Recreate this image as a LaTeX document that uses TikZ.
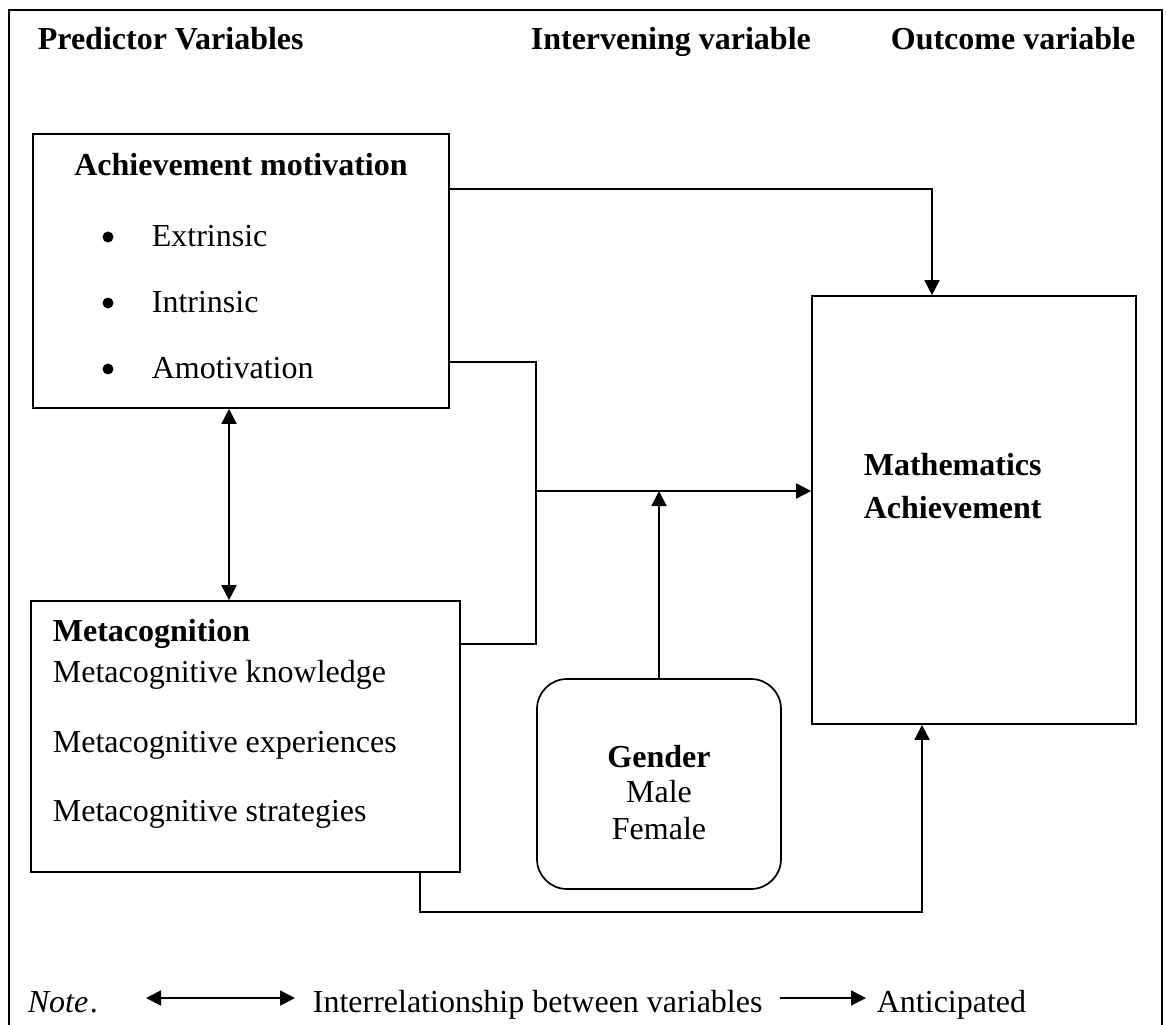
\documentclass[tikz,border=0pt]{standalone}
\usepackage{fontspec}
\setmainfont{Liberation Serif}
\usetikzlibrary{arrows.meta}

\begin{document}
\begin{tikzpicture}[
    x=1pt, y=-1pt,
    line width=1.7pt,
    every node/.style={inner sep=0pt, font=\fontsize{32}{38}\selectfont, anchor=base west},
    box/.style={draw, rectangle, anchor=center},
    roundbox/.style={draw, rectangle, rounded corners=30pt, anchor=center},
    head/.style={font=\fontsize{32}{38}\selectfont\bfseries},
    dot/.style={circle, fill, minimum size=11pt, anchor=center},
    link/.style={-{Triangle[length=15pt,width=15pt]}},
    twolink/.style={{Triangle[length=15pt,width=15pt]}-{Triangle[length=15pt,width=15pt]}}
]
\useasboundingbox (0,0) rectangle (1167,1025);
% frame
\draw[line width=2.5pt] (9,1025) -- (9,10) -- (1162,10) -- (1162,1025);

% column heads
\node[head] (predhead) at (37,50) {Predictor Variables};
\node[head] (inthead) at (530,50) {Intervening variable};
\node[head] (outhead) at (890,50) {Outcome variable};

% boxes
\node[box, minimum width=416pt, minimum height=274pt] (achv) at (241,271) {};
\node[box, minimum width=429pt, minimum height=271pt] (meta) at (245.5,736.5) {};
\node[box, minimum width=324pt, minimum height=428pt] (math) at (974,510) {};
\node[roundbox, minimum width=244pt, minimum height=210pt] (gender) at (659,784) {};

% achievement motivation
\node[head, anchor=base] (achvtitle) at (241,175) {Achievement motivation};
\foreach \lbl/\y [count=\i] in {Extrinsic/246, Intrinsic/312, Amotivation/378} {
    \node[dot] (bul\i) at (108,\y-9) {};
    \node (achvitem\i) at (151,\y) {\lbl};
}

% metacognition
\node[head] (metatitle) at (52,641) {Metacognition};
\node (metaitem1) at (52,682) {Metacognitive knowledge};
\node (metaitem2) at (52,752) {Metacognitive experiences};
\node (metaitem3) at (52,821) {Metacognitive strategies};

% outcome
\node[head] (mathtitle1) at (863,475) {Mathematics};
\node[head] (mathtitle2) at (863,518) {Achievement};

% gender
\node[head, anchor=base] (gendertitle) at (659,767) {Gender};
\node[anchor=base] (male) at (659,802) {Male};
\node[anchor=base] (female) at (659,839) {Female};

% connectors
\coordinate (jtop) at (536,362);
\coordinate (jmid) at (536,491);
\coordinate (jbot) at (536,644);
\draw[link] ([yshift=-56pt]achv.north east) -| ([xshift=-42pt]math.north);
\draw (jtop -| achv.east) -- (jtop) -- (jbot) -- (jbot -| meta.east);
\draw[link] (jmid) -- (jmid -| math.west);
\draw[link] (gender.north) -- (gender.north |- jmid);
\draw[link] ([xshift=-41pt]meta.south east) -- ++(0,39) -| ([xshift=-52pt]math.south);
\draw[twolink] ([xshift=-12pt]achv.south) -- ([xshift=-12pt]achv.south |- meta.north);

% legend
\node[font=\fontsize{32}{38}\selectfont\itshape] (note) at (27,1012) {Note};
\node (notedot) at (note.base east) {.};
\coordinate (lega) at (146,998);
\coordinate (legb) at (295,998);
\coordinate (legc) at (780,998);
\coordinate (legd) at (866,998);
\draw[twolink] (lega) -- (legb);
\node (interrel) at (312,1012) {Interrelationship between variables};
\draw[link] (legc) -- (legd);
\node (anticip) at (876,1012) {Anticipated};
\end{tikzpicture}
\end{document}
